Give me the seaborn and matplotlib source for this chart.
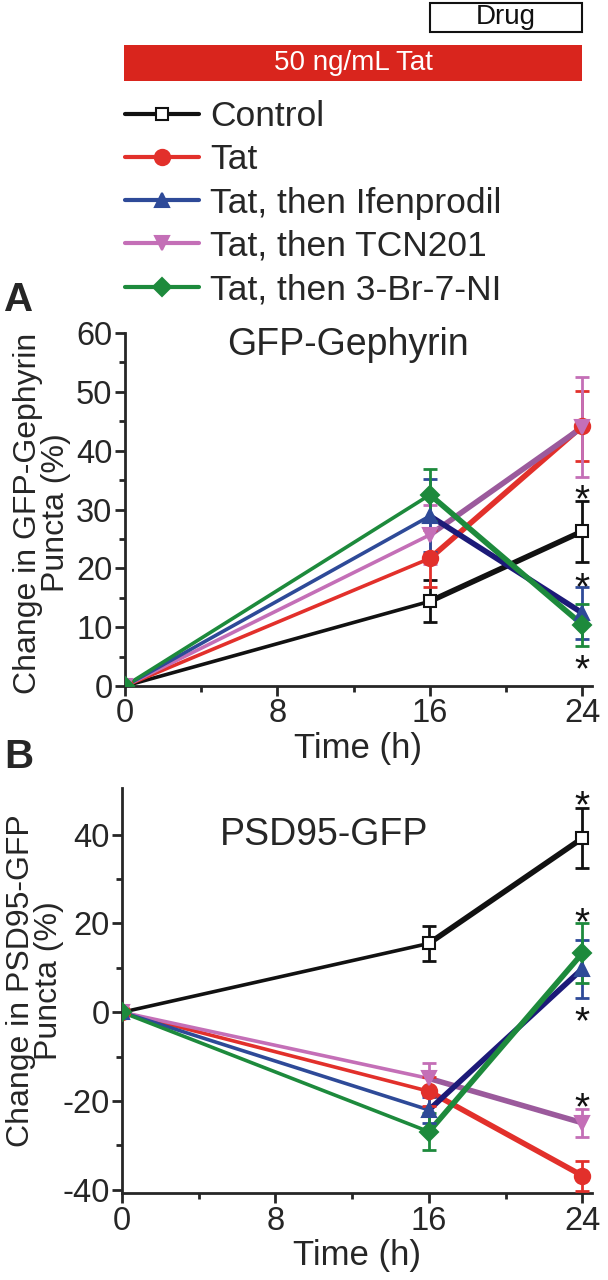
import numpy as np
import pandas as pd
import matplotlib
matplotlib.use("Agg")
import matplotlib.pyplot as plt
import seaborn as sns
from matplotlib.patches import Rectangle
from matplotlib.lines import Line2D

sns.set_style("ticks")
plt.rcParams["font.family"] = ["Liberation Sans", "DejaVu Sans"]
plt.rcParams["axes.unicode_minus"] = False

time_h = [0, 16, 24]
groups = ["Control", "Tat", "Tat, then Ifenprodil", "Tat, then TCN201", "Tat, then 3-Br-7-NI"]

# panel A: GFP-Gephyrin puncta change (%)
geph_mean = {
    "Control": [0, 14.4, 26.3],
    "Tat": [0, 21.7, 44.2],
    "Tat, then Ifenprodil": [0, 28.9, 12.4],
    "Tat, then TCN201": [0, 25.7, 44.0],
    "Tat, then 3-Br-7-NI": [0, 32.5, 10.4],
}
geph_err = {
    "Control": [0, 3.6, 5.2],
    "Tat": [0, 4.8, 6.0],
    "Tat, then Ifenprodil": [0, 6.2, 4.4],
    "Tat, then TCN201": [0, 5.0, 8.5],
    "Tat, then 3-Br-7-NI": [0, 4.4, 3.6],
}
geph_stars = [33.5, 18.5, 4.5]

# panel B: PSD95-GFP puncta change (%)
psd_mean = {
    "Control": [0, 15.5, 39.2],
    "Tat": [0, -17.8, -36.8],
    "Tat, then Ifenprodil": [0, -22.0, 9.8],
    "Tat, then TCN201": [0, -14.9, -24.9],
    "Tat, then 3-Br-7-NI": [0, -26.9, 13.3],
}
psd_err = {
    "Control": [0, 3.9, 6.7],
    "Tat": [0, 3.2, 3.4],
    "Tat, then Ifenprodil": [0, 3.0, 6.5],
    "Tat, then TCN201": [0, 3.5, 3.2],
    "Tat, then 3-Br-7-NI": [0, 4.2, 6.7],
}
psd_stars = [48.8, 22.5, 0.3, -19.0]

colors = {
    "Control": "#111111",
    "Tat": "#e2302b",
    "Tat, then Ifenprodil": "#2e4a98",
    "Tat, then TCN201": "#c46fb7",
    "Tat, then 3-Br-7-NI": "#1d8a3c",
}
late_colors = {
    "Control": "#111111",
    "Tat": "#e2302b",
    "Tat, then Ifenprodil": "#1c1a78",
    "Tat, then TCN201": "#9b5a9c",
    "Tat, then 3-Br-7-NI": "#1d8a3c",
}
markers = {
    "Control": "s",
    "Tat": "o",
    "Tat, then Ifenprodil": "^",
    "Tat, then TCN201": "v",
    "Tat, then 3-Br-7-NI": "D",
}
msizes = {"Control": 9, "Tat": 11, "Tat, then Ifenprodil": 10,
          "Tat, then TCN201": 10, "Tat, then 3-Br-7-NI": 9}
draw_order = ["Control", "Tat", "Tat, then TCN201", "Tat, then Ifenprodil", "Tat, then 3-Br-7-NI"]

FS = 23


def long_frame(means, errs):
    rows = []
    for g in groups:
        for t, m, e in zip(time_h, means[g], errs[g]):
            rows.append({"time": t, "group": g, "value": m, "err": e})
    return pd.DataFrame(rows)


def draw_panel(ax, df, stars, ylim, yticks, yminor, title, title_xy, ylabel, label_xy):
    for g in draw_order:
        sub = df[df["group"] == g]
        c = colors[g]
        sns.lineplot(data=sub[sub["time"] <= 16], x="time", y="value", ax=ax,
                     color=c, lw=2.6, legend=False, zorder=3)
        sns.lineplot(data=sub[sub["time"] >= 16], x="time", y="value", ax=ax,
                     color=late_colors[g], lw=4.0, legend=False, zorder=3)
    for g in draw_order:
        sub = df[df["group"] == g]
        c = colors[g]
        ax.errorbar(sub["time"], sub["value"], yerr=sub["err"], fmt="none",
                    ecolor=c, elinewidth=2, capsize=5, capthick=2, zorder=4)
        fc = "white" if g == "Control" else c
        ax.plot(sub["time"], sub["value"], ls="none", marker=markers[g],
                ms=msizes[g], mfc=fc, mec=c, mew=1.5, zorder=5)
    for s in stars:
        ax.annotate("*", (24, s), xytext=(0, -16), textcoords="offset points",
                    ha="center", va="baseline", fontsize=28, color="#111111", zorder=6)
    ax.set_xlim(0, 24.5)
    ax.set_ylim(*ylim)
    ax.set_xticks([0, 8, 16, 24])
    ax.set_xticks([4, 12, 20], minor=True)
    ax.set_yticks(yticks)
    ax.set_yticks(yminor, minor=True)
    ax.tick_params(axis="both", which="major", labelsize=FS + 0.5, length=7, width=2,
                   direction="out", pad=2)
    ax.tick_params(axis="both", which="minor", length=4, width=2, direction="out")
    for sp in ["left", "bottom"]:
        ax.spines[sp].set_linewidth(2)
    sns.despine(ax=ax)
    ax.set_xlabel("Time (h)", fontsize=FS + 2, labelpad=2)
    ax.set_ylabel(ylabel, fontsize=FS, linespacing=0.92)
    ax.yaxis.set_label_coords(*label_xy)
    ax.text(title_xy[0], title_xy[1], title, transform=ax.transAxes, ha="center",
            va="center", fontsize=FS + 4)


W, H = 608, 1280
fig = plt.figure(figsize=(W / 100, H / 100), dpi=100)


def px_axes(left, top, right, bottom):
    return fig.add_axes([left / W, 1 - bottom / H, (right - left) / W, (bottom - top) / H])


# top banner with treatment timing and legend
axt = px_axes(124, 0, 592, 300)
axt.set_xlim(0, 24.5)
axt.set_ylim(300, 0)
axt.axis("off")
axt.add_patch(Rectangle((0, 45), 24, 36, facecolor="#d9251d", edgecolor="none"))
axt.text(12, 63, "50 ng/mL Tat", color="white", ha="center", va="center", fontsize=20)
axt.add_patch(Rectangle((16, 3), 8, 29, facecolor="white", edgecolor="#111111", lw=1.5))
axt.text(20, 17, "Drug", color="#111111", ha="center", va="center", fontsize=20)

handles = []
for g in groups:
    c = colors[g]
    fc = "white" if g == "Control" else c
    handles.append(Line2D([], [], color=c, lw=3, marker=markers[g],
                          ms=msizes[g] if g != "Control" else 8, mfc=fc, mec=c, mew=1.5))
fig.legend(handles, groups, loc="upper left", bbox_to_anchor=(125 / W, 1 - 100 / H),
           frameon=False, fontsize=25.5, handlelength=2.1, handletextpad=0.3,
           labelspacing=0.29, borderpad=0, borderaxespad=0)

fig.text(4 / W, 1 - 300 / H, "A", fontsize=29, fontweight="bold", va="center", ha="left")
fig.text(4 / W, 1 - 757 / H, "B", fontsize=29, fontweight="bold", va="center", ha="left")

axA = px_axes(125, 333, 592, 686)
draw_panel(axA, long_frame(geph_mean, geph_err), geph_stars, (0, 60),
           np.arange(0, 61, 10), np.arange(5, 60, 10), "GFP-Gephyrin", (0.477, 0.965),
           "Change in GFP-Gephyrin\nPuncta (%)", (-0.115, 0.49))

axB = px_axes(122, 788, 592, 1193)
draw_panel(axB, long_frame(psd_mean, psd_err), psd_stars, (-40.7, 50.5),
           [-40, -20, 0, 20, 40], [-30, -10, 10, 30], "PSD95-GFP", (0.43, 0.884),
           "Change in PSD95-GFP\nPuncta (%)", (-0.124, 0.525))

fig.savefig("out.png", dpi=100)
